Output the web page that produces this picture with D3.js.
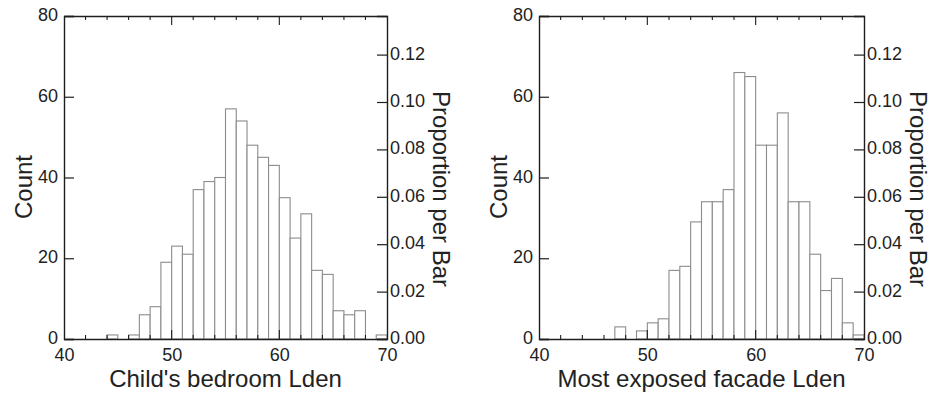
<!DOCTYPE html>
<html><head><meta charset="utf-8">
<script src="https://cdn.jsdelivr.net/npm/d3@7"></script>
<style>body{margin:0;background:#fff}text{font-family:"Liberation Sans",Arial,sans-serif;fill:#222}</style>
</head><body>
<svg id="c" width="934" height="396"></svg>
<script>
const binStarts = d3.range(40, 70, 1);
const bedroomCounts = [0,0,0,0,1,0,1,6,8,19,23,21,37,39,40,57,54,48,45,43,35,25,31,17,16,7,6,7,0,1];
const facadeCounts  = [0,0,0,0,0,0,0,3,0,2,4,5,17,18,29,34,34,37,66,65,48,48,56,34,34,21,12,15,4,1];
const xTickLabels = [40,50,60,70];
const countTicks = [0,20,40,60,80];
const propTicks = [0.00,0.02,0.04,0.06,0.08,0.10,0.12];
const titles = ["Child's bedroom Lden","Most exposed facade Lden"];

const svg = d3.select("#c");
const panels = [
  {x0:64, x1:387, counts:bedroomCounts, title:titles[0]},
  {x0:539, x1:864, counts:facadeCounts, title:titles[1]}
];
const yTop = 16, yBot = 339;

panels.forEach(p => {
  const g = svg.append("g");
  const x = d3.scaleLinear().domain([40,70]).range([p.x0,p.x1]);
  const y = d3.scaleLinear().domain([0,80]).range([yBot,yTop]);
  const N = d3.sum(p.counts);
  const yp = d3.scaleLinear().domain([0,80/N]).range([yBot,yTop]);

  g.selectAll("rect.bar").data(binStarts.map((b,i)=>({b, c:p.counts[i]})).filter(d=>d.c>0))
    .join("rect").attr("class","bar")
    .attr("x", d=>x(d.b)).attr("width", d=>x(d.b+1)-x(d.b))
    .attr("y", d=>y(d.c)).attr("height", d=>yBot-y(d.c))
    .attr("fill","#fff").attr("stroke","#8c8c8c").attr("stroke-width",1.1);

  const axCol = "#1e1e1e";
  const la = g.append("g").attr("transform",`translate(${p.x0},0)`)
    .call(d3.axisLeft(y).tickValues(countTicks).tickSize(-10).tickPadding(6).tickFormat(d3.format("d")));
  const ra = g.append("g").attr("transform",`translate(${p.x1},0)`)
    .call(d3.axisRight(yp).tickValues(propTicks).tickSize(-10).tickPadding(3).tickFormat(d3.format(".2f")));
  const ba = g.append("g").attr("transform",`translate(0,${yBot})`)
    .call(d3.axisBottom(x).tickValues(xTickLabels).tickSize(0).tickPadding(9).tickFormat(d3.format("d")));
  const ta = g.append("g").attr("transform",`translate(0,${yTop})`)
    .call(d3.axisTop(x).tickValues([]).tickSize(0));
  [la,ra,ba,ta].forEach(a=>{
    a.select(".domain").attr("stroke",axCol).attr("stroke-width",1.4);
    a.selectAll(".tick line").attr("stroke",axCol).attr("stroke-width",1.2);
    a.selectAll("text").attr("font-size",18).attr("fill","#222").attr("font-family","Liberation Sans, Arial, sans-serif");
  });
  la.selectAll(".tick text").attr("dy","0.25em");
  ra.selectAll(".tick text").attr("dy","0.25em");
  const minor = d3.range(42,70,2);
  g.selectAll("line.tt").data(minor).join("line").attr("class","tt")
    .attr("x1",d=>x(d)).attr("x2",d=>x(d))
    .attr("y1",yTop).attr("y2",d=>yTop+(d%10===0?9:4))
    .attr("stroke",axCol).attr("stroke-width",1.1);
  g.selectAll("line.bt").data(minor).join("line").attr("class","bt")
    .attr("x1",d=>x(d)).attr("x2",d=>x(d))
    .attr("y1",yBot).attr("y2",d=>yBot-(d%10===0?9:4))
    .attr("stroke",axCol).attr("stroke-width",1.1);

  g.append("text").attr("x",(p.x0+p.x1)/2).attr("y",387).attr("text-anchor","middle")
    .attr("font-size",24).text(p.title);
  g.append("text").attr("transform",`translate(${p.x0-32},${187}) rotate(-90)`)
    .attr("text-anchor","middle").attr("font-size",24).text("Count");
  g.append("text").attr("transform",`translate(${p.x1+46},${189}) rotate(90)`)
    .attr("text-anchor","middle").attr("font-size",24).text("Proportion per Bar");
});
</script>
</body></html>
